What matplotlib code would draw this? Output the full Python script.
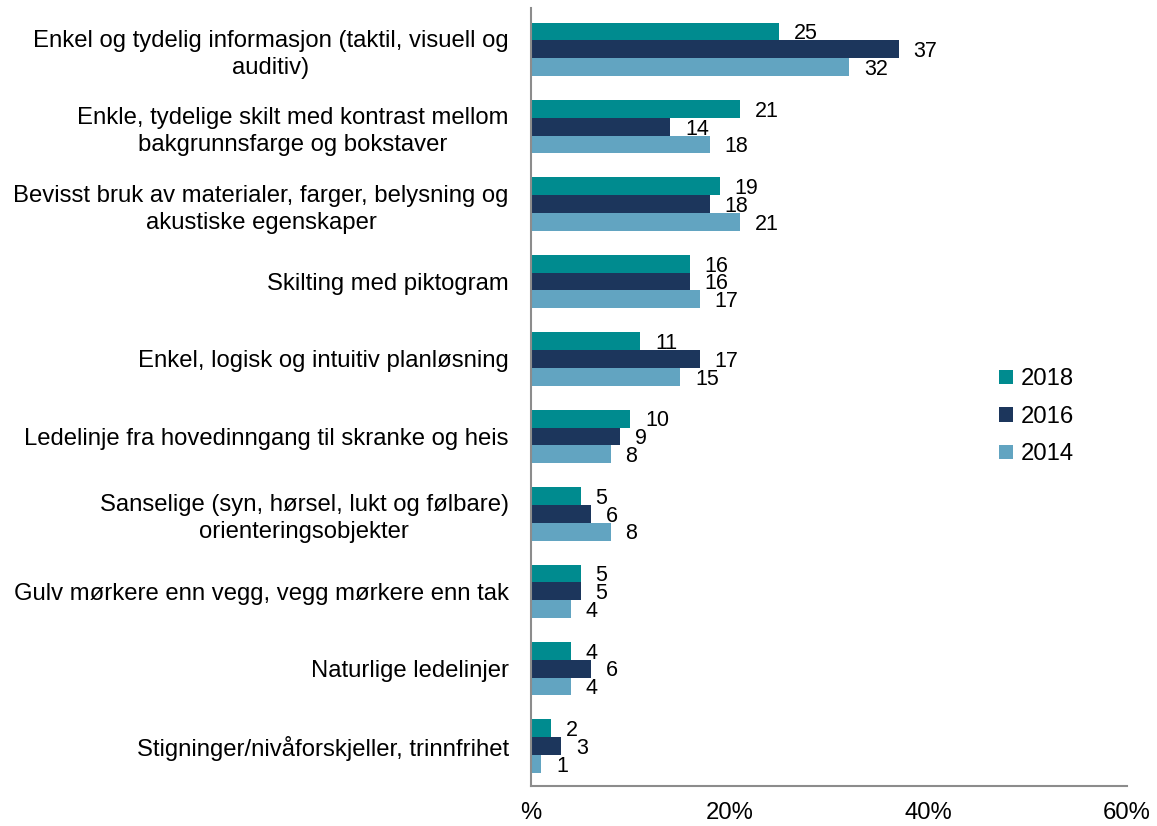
import matplotlib.pyplot as plt
import numpy as np

plt.rcParams['font.family'] = ['Liberation Sans', 'DejaVu Sans']

categories = [
    "Enkel og tydelig informasjon (taktil, visuell og\nauditiv)",
    "Enkle, tydelige skilt med kontrast mellom\nbakgrunnsfarge og bokstaver",
    "Bevisst bruk av materialer, farger, belysning og\nakustiske egenskaper",
    "Skilting med piktogram",
    "Enkel, logisk og intuitiv planløsning",
    "Ledelinje fra hovedinngang til skranke og heis",
    "Sanselige (syn, hørsel, lukt og følbare)\norienteringsobjekter",
    "Gulv mørkere enn vegg, vegg mørkere enn tak",
    "Naturlige ledelinjer",
    "Stigninger/nivåforskjeller, trinnfrihet",
]
v2018 = [25, 21, 19, 16, 11, 10, 5, 5, 4, 2]
v2016 = [37, 14, 18, 16, 17, 9, 6, 5, 6, 3]
v2014 = [32, 18, 21, 17, 15, 8, 8, 4, 4, 1]
series = [("2018", v2018, "#008b8f"), ("2016", v2016, "#1c365c"), ("2014", v2014, "#62a4c1")]
xticks = [0, 20, 40, 60]
xticklabels = ["%", "20%", "40%", "60%"]

fs = 17.2
fig = plt.figure(figsize=(11.57, 8.26), dpi=100)
ax = fig.add_axes([0.459, 0.048, 0.515, 0.942])

y = np.arange(len(categories))
h = 0.23
for i, (name, vals, col) in enumerate(series):
    pos = y + (i - 1) * h
    ax.barh(pos, vals, height=h, color=col, label=name)
    for p, v in zip(pos, vals):
        ax.text(v + 1.5, p + 0.03, str(v), va='center', ha='left', fontsize=15.5)

ax.set_ylim(len(categories) - 0.5 + 0.02, -0.5 - 0.03)
ax.set_xlim(0, 60)
ax.set_yticks(y)
ax.set_yticklabels(categories, fontsize=fs, multialignment='center', linespacing=1.3)
ax.set_xticks(xticks)
ax.set_xticklabels(xticklabels, fontsize=fs)
ax.tick_params(axis='both', length=0)
ax.tick_params(axis='y', pad=16)
ax.tick_params(axis='x', pad=11)
for s in ['top', 'right']:
    ax.spines[s].set_visible(False)
for s in ['left', 'bottom']:
    ax.spines[s].set_color('#8c8c8c')
    ax.spines[s].set_linewidth(1.5)

ax.legend(loc='center left', bbox_to_anchor=(0.75, 0.475), frameon=False, fontsize=fs,
          handlelength=0.55, handleheight=0.55, handletextpad=0.35, labelspacing=0.65)

fig.savefig('out.png', dpi=100)
